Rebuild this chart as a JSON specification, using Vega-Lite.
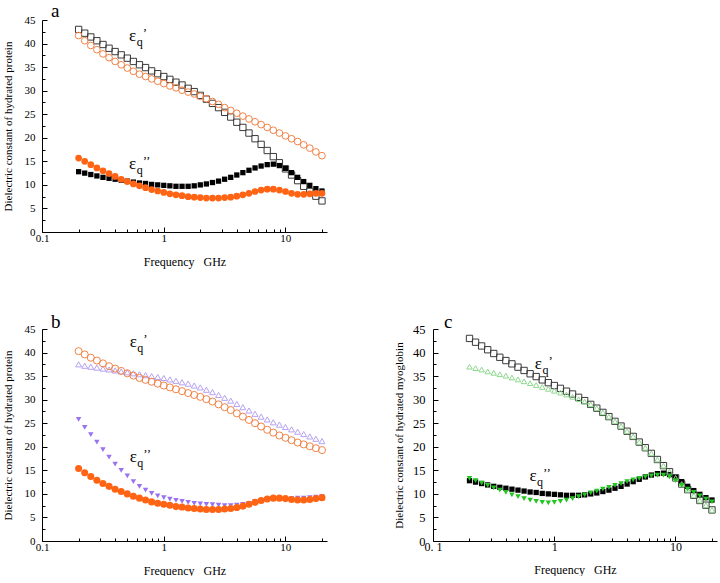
{
  "$schema": "https://vega.github.io/schema/vega-lite/v6.json",
  "padding": {"left": 2, "top": 2, "right": 0, "bottom": 0},
  "config": {
    "view": {"stroke": null},
    "axis": {"grid": false, "domainColor": "#000", "tickColor": "#000", "labelColor": "#000", "titleColor": "#000", "labelFont": "Liberation Serif", "titleFont": "Liberation Serif", "labelFontSize": 11, "titleFontSize": 11, "titleFontWeight": "normal", "domainWidth": 1, "tickWidth": 1, "labelFlush": false},
    "title": {"font": "Liberation Serif", "fontSize": 19, "fontWeight": "normal", "color": "#000"}
  },
  "datasets": {
    "d": [
      {"f":0.2,"sqO":43.0,"sqF":12.8,"aO":41.7,"aF":15.7,"bO":40.3,"bT":37.5,"bTF":25.8,"bF":15.4,"cT":37.0,"cTF":13.3},
      {"f":0.2244,"sqO":42.2,"sqF":12.5,"aO":40.6,"aF":15.0,"bO":39.6,"bT":37.2,"bTF":24.1,"bF":14.5,"cT":36.7,"cTF":12.8},
      {"f":0.2518,"sqO":41.4,"sqF":12.2,"aO":39.6,"aF":14.3,"bO":38.9,"bT":37.0,"bTF":22.6,"bF":13.7,"cT":36.4,"cTF":12.3},
      {"f":0.2825,"sqO":40.6,"sqF":11.9,"aO":38.7,"aF":13.6,"bO":38.3,"bT":36.8,"bTF":21.0,"bF":12.9,"cT":36.0,"cTF":11.8},
      {"f":0.317,"sqO":39.8,"sqF":11.6,"aO":37.8,"aF":13.0,"bO":37.7,"bT":36.6,"bTF":19.4,"bF":12.2,"cT":35.7,"cTF":11.3},
      {"f":0.3557,"sqO":39.0,"sqF":11.4,"aO":37.0,"aF":12.4,"bO":37.1,"bT":36.4,"bTF":17.8,"bF":11.6,"cT":35.4,"cTF":10.8},
      {"f":0.3991,"sqO":38.3,"sqF":11.2,"aO":36.2,"aF":11.8,"bO":36.6,"bT":36.2,"bTF":16.3,"bF":11.0,"cT":35.1,"cTF":10.3},
      {"f":0.4477,"sqO":37.6,"sqF":11.0,"aO":35.5,"aF":11.2,"bO":36.1,"bT":36.0,"bTF":15.0,"bF":10.5,"cT":34.7,"cTF":9.8},
      {"f":0.5024,"sqO":36.9,"sqF":10.8,"aO":34.8,"aF":10.7,"bO":35.6,"bT":35.8,"bTF":13.8,"bF":10.0,"cT":34.3,"cTF":9.4},
      {"f":0.5637,"sqO":36.2,"sqF":10.6,"aO":34.1,"aF":10.2,"bO":35.1,"bT":35.6,"bTF":12.6,"bF":9.5,"cT":33.9,"cTF":9.0},
      {"f":0.6325,"sqO":35.5,"sqF":10.4,"aO":33.5,"aF":9.8,"bO":34.6,"bT":35.4,"bTF":11.6,"bF":9.1,"cT":33.5,"cTF":8.7},
      {"f":0.7096,"sqO":34.9,"sqF":10.3,"aO":33.0,"aF":9.4,"bO":34.2,"bT":35.2,"bTF":10.8,"bF":8.7,"cT":33.1,"cTF":8.4},
      {"f":0.7962,"sqO":34.2,"sqF":10.1,"aO":32.5,"aF":9.0,"bO":33.8,"bT":35.0,"bTF":10.1,"bF":8.3,"cT":32.7,"cTF":8.2},
      {"f":0.8934,"sqO":33.6,"sqF":10.0,"aO":32.0,"aF":8.7,"bO":33.4,"bT":34.8,"bTF":9.6,"bF":8.0,"cT":32.3,"cTF":8.1},
      {"f":1.0024,"sqO":33.0,"sqF":9.9,"aO":31.5,"aF":8.4,"bO":33.0,"bT":34.6,"bTF":9.2,"bF":7.8,"cT":31.9,"cTF":8.2},
      {"f":1.1247,"sqO":32.4,"sqF":9.8,"aO":31.0,"aF":8.1,"bO":32.6,"bT":34.3,"bTF":8.9,"bF":7.6,"cT":31.5,"cTF":8.4},
      {"f":1.2619,"sqO":31.8,"sqF":9.7,"aO":30.6,"aF":7.9,"bO":32.2,"bT":34.0,"bTF":8.6,"bF":7.3,"cT":31.1,"cTF":8.7},
      {"f":1.4159,"sqO":31.2,"sqF":9.7,"aO":30.1,"aF":7.7,"bO":31.8,"bT":33.7,"bTF":8.4,"bF":7.2,"cT":30.6,"cTF":9.0},
      {"f":1.5887,"sqO":30.5,"sqF":9.7,"aO":29.7,"aF":7.5,"bO":31.4,"bT":33.4,"bTF":8.2,"bF":7.0,"cT":30.1,"cTF":9.4},
      {"f":1.7825,"sqO":29.8,"sqF":9.8,"aO":29.3,"aF":7.4,"bO":31.0,"bT":33.0,"bTF":8.0,"bF":6.9,"cT":29.6,"cTF":9.8},
      {"f":2.0,"sqO":29.0,"sqF":10.0,"aO":28.8,"aF":7.3,"bO":30.6,"bT":32.6,"bTF":7.9,"bF":6.8,"cT":29.0,"cTF":10.2},
      {"f":2.244,"sqO":28.2,"sqF":10.2,"aO":28.3,"aF":7.2,"bO":30.1,"bT":32.1,"bTF":7.8,"bF":6.7,"cT":28.2,"cTF":10.6},
      {"f":2.5179,"sqO":27.3,"sqF":10.5,"aO":27.7,"aF":7.2,"bO":29.6,"bT":31.6,"bTF":7.7,"bF":6.7,"cT":27.3,"cTF":11.0},
      {"f":2.8251,"sqO":26.4,"sqF":10.8,"aO":27.1,"aF":7.2,"bO":29.0,"bT":31.0,"bTF":7.6,"bF":6.7,"cT":26.4,"cTF":11.4},
      {"f":3.1698,"sqO":25.4,"sqF":11.2,"aO":26.4,"aF":7.3,"bO":28.4,"bT":30.4,"bTF":7.5,"bF":6.8,"cT":25.4,"cTF":11.8},
      {"f":3.5566,"sqO":24.4,"sqF":11.6,"aO":25.8,"aF":7.4,"bO":27.8,"bT":29.8,"bTF":7.5,"bF":6.9,"cT":24.4,"cTF":12.2},
      {"f":3.9905,"sqO":23.3,"sqF":12.1,"aO":25.2,"aF":7.6,"bO":27.1,"bT":29.1,"bTF":7.6,"bF":7.1,"cT":23.3,"cTF":12.6},
      {"f":4.4774,"sqO":22.2,"sqF":12.6,"aO":24.6,"aF":7.9,"bO":26.4,"bT":28.4,"bTF":7.8,"bF":7.4,"cT":22.2,"cTF":13.0},
      {"f":5.0238,"sqO":21.0,"sqF":13.1,"aO":24.0,"aF":8.2,"bO":25.7,"bT":27.7,"bTF":8.0,"bF":7.8,"cT":21.0,"cTF":13.3},
      {"f":5.6368,"sqO":19.8,"sqF":13.6,"aO":23.4,"aF":8.6,"bO":25.0,"bT":27.0,"bTF":8.3,"bF":8.2,"cT":19.8,"cTF":13.6},
      {"f":6.3246,"sqO":18.6,"sqF":14.0,"aO":22.8,"aF":8.9,"bO":24.3,"bT":26.4,"bTF":8.6,"bF":8.6,"cT":18.6,"cTF":13.8},
      {"f":7.0963,"sqO":17.3,"sqF":14.3,"aO":22.2,"aF":9.1,"bO":23.6,"bT":25.8,"bTF":8.8,"bF":8.9,"cT":17.3,"cTF":14.0},
      {"f":7.9621,"sqO":16.0,"sqF":14.4,"aO":21.6,"aF":9.1,"bO":23.0,"bT":25.2,"bTF":8.9,"bF":9.1,"cT":16.0,"cTF":14.0},
      {"f":8.9337,"sqO":14.7,"sqF":14.1,"aO":21.0,"aF":8.9,"bO":22.4,"bT":24.7,"bTF":9.0,"bF":9.1,"cT":14.7,"cTF":13.6},
      {"f":10.0237,"sqO":13.4,"sqF":13.5,"aO":20.4,"aF":8.6,"bO":21.9,"bT":24.2,"bTF":9.0,"bF":9.0,"cT":13.4,"cTF":12.8},
      {"f":11.2468,"sqO":12.1,"sqF":12.6,"aO":19.8,"aF":8.2,"bO":21.4,"bT":23.7,"bTF":9.0,"bF":8.8,"cT":12.1,"cTF":11.8},
      {"f":12.6191,"sqO":10.9,"sqF":11.6,"aO":19.2,"aF":8.0,"bO":20.9,"bT":23.2,"bTF":9.1,"bF":8.7,"cT":10.9,"cTF":11.0},
      {"f":14.1589,"sqO":9.7,"sqF":10.7,"aO":18.5,"aF":8.0,"bO":20.5,"bT":22.7,"bTF":9.1,"bF":8.7,"cT":9.7,"cTF":10.3},
      {"f":15.8866,"sqO":8.6,"sqF":9.9,"aO":17.8,"aF":8.1,"bO":20.1,"bT":22.2,"bTF":9.2,"bF":8.8,"cT":8.6,"cTF":9.6},
      {"f":17.825,"sqO":7.6,"sqF":9.2,"aO":17.0,"aF":8.2,"bO":19.7,"bT":21.7,"bTF":9.3,"bF":9.0,"cT":7.6,"cTF":8.9},
      {"f":20.0,"sqO":6.6,"sqF":8.7,"aO":16.2,"aF":8.2,"bO":19.3,"bT":21.2,"bTF":9.4,"bF":9.2,"cT":6.6,"cTF":8.3}
    ]
  },
  "bounds": "flush",
  "spacing": 97,
  "vconcat": [
    {
      "width": 285, "height": 212,
      "title": {"text": "a", "anchor": "start", "frame": "group", "dx": 9, "offset": -22, "baseline": "alphabetic"},
      "data": {"name": "d"},
      "layer": [
        {"mark": {"type": "point", "shape": "square", "filled": false, "color": "#3a3a3a", "strokeWidth": 1, "size": 40, "opacity": 1},
         "encoding": {
           "x": {"field": "f", "type": "quantitative", "scale": {"type": "log", "domain": [0.1, 22], "nice": false}, "axis": {"orient": "bottom", "values": [0.1, 1, 10], "format": "~g", "tickSize": -5, "labelPadding": 5, "titlePadding": 13, "titleFontSize": 12, "title": "Frequency\u00a0\u00a0\u00a0GHz"}},
           "y": {"field": "sqO", "type": "quantitative", "scale": {"domain": [0, 45], "nice": false}, "axis": {"orient": "left", "values": [0,5,10,15,20,25,30,35,40,45], "tickSize": -5, "labelPadding": 12, "titlePadding": 11, "title": "Dielectric constant of hydrated protein"}}
         }},
        {"mark": {"type": "point", "shape": "circle", "filled": false, "color": "#f28346", "strokeWidth": 1, "size": 45, "opacity": 1},
         "encoding": {
           "x": {"field": "f", "type": "quantitative", "axis": {"orient": "bottom", "values": [0.2,0.3,0.4,0.5,0.6,0.7,0.8,0.9,2,3,4,5,6,7,8,9,20], "tickSize": -3, "labels": false, "domain": false, "title": null}},
           "y": {"field": "aO", "type": "quantitative", "axis": {"orient": "left", "values": [2.5,7.5,12.5,17.5,22.5,27.5,32.5,37.5,42.5], "tickSize": -3, "labels": false, "domain": false, "title": null}}
         }},
        {"mark": {"type": "point", "shape": "square", "filled": true, "color": "#000", "size": 28, "opacity": 1},
         "encoding": {"x": {"field": "f", "type": "quantitative", "axis": null}, "y": {"field": "sqF", "type": "quantitative", "axis": null}}},
        {"mark": {"type": "point", "shape": "circle", "filled": true, "color": "#ff6414", "size": 45, "opacity": 1},
         "encoding": {"x": {"field": "f", "type": "quantitative", "axis": null}, "y": {"field": "aF", "type": "quantitative", "axis": null}}},
        {"data": {"values": [{"f": 0.556, "v": 41.5, "p": "’"}, {"f": 0.556, "v": 14.4, "p": "’’"}]},
         "layer": [
           {"mark": {"type": "text", "text": "ε", "font": "Liberation Serif", "fontSize": 17, "align": "center", "baseline": "middle"},
            "encoding": {"x": {"field": "f", "type": "quantitative", "axis": null}, "y": {"field": "v", "type": "quantitative", "axis": null}}},
           {"mark": {"type": "text", "text": "q", "font": "Liberation Serif", "fontSize": 12, "align": "center", "baseline": "middle", "dx": 7, "dy": 6},
            "encoding": {"x": {"field": "f", "type": "quantitative", "axis": null}, "y": {"field": "v", "type": "quantitative", "axis": null}}},
           {"mark": {"type": "text", "font": "Liberation Serif", "fontSize": 13, "align": "left", "baseline": "middle", "dx": 10, "dy": -3},
            "encoding": {"text": {"field": "p"}, "x": {"field": "f", "type": "quantitative", "axis": null}, "y": {"field": "v", "type": "quantitative", "axis": null}}}
         ]}
      ],
      "resolve": {"axis": {"x": "independent", "y": "independent"}}
    },
    {
      "bounds": "flush",
      "spacing": 106,
      "hconcat": [
        {
          "width": 285, "height": 212,
          "title": {"text": "b", "anchor": "start", "frame": "group", "dx": 9, "offset": -24, "baseline": "alphabetic"},
          "data": {"name": "d"},
          "layer": [
            {"mark": {"type": "point", "shape": "triangle-up", "filled": false, "color": "#b5a2f2", "strokeWidth": 1, "size": 35, "opacity": 1},
             "encoding": {
               "x": {"field": "f", "type": "quantitative", "scale": {"type": "log", "domain": [0.1, 22], "nice": false}, "axis": {"orient": "bottom", "values": [0.1, 1, 10], "format": "~g", "tickSize": -5, "labelPadding": 5, "titlePadding": 13, "titleFontSize": 12, "title": "Frequency\u00a0\u00a0\u00a0GHz"}},
               "y": {"field": "bT", "type": "quantitative", "scale": {"domain": [0, 45], "nice": false}, "axis": {"orient": "left", "values": [0,5,10,15,20,25,30,35,40,45], "tickSize": -5, "labelPadding": 12, "titlePadding": 11, "title": "Dielectric constant of hydrated protein"}}
             }},
            {"mark": {"type": "point", "shape": "circle", "filled": false, "color": "#f28346", "strokeWidth": 1, "size": 50, "opacity": 1},
             "encoding": {
               "x": {"field": "f", "type": "quantitative", "axis": {"orient": "bottom", "values": [0.2,0.3,0.4,0.5,0.6,0.7,0.8,0.9,2,3,4,5,6,7,8,9,20], "tickSize": -3, "labels": false, "domain": false, "title": null}},
               "y": {"field": "bO", "type": "quantitative", "axis": {"orient": "left", "values": [2.5,7.5,12.5,17.5,22.5,27.5,32.5,37.5,42.5], "tickSize": -3, "labels": false, "domain": false, "title": null}}
             }},
            {"mark": {"type": "point", "shape": "triangle-down", "filled": true, "color": "#9a72f0", "size": 30, "opacity": 1},
             "encoding": {"x": {"field": "f", "type": "quantitative", "axis": null}, "y": {"field": "bTF", "type": "quantitative", "axis": null}}},
            {"mark": {"type": "point", "shape": "circle", "filled": true, "color": "#ff6414", "size": 50, "opacity": 1},
             "encoding": {"x": {"field": "f", "type": "quantitative", "axis": null}, "y": {"field": "bF", "type": "quantitative", "axis": null}}},
            {"data": {"values": [{"f": 0.563, "v": 42.2, "p": "’"}, {"f": 0.563, "v": 17.8, "p": "’’"}]},
             "layer": [
               {"mark": {"type": "text", "text": "ε", "font": "Liberation Serif", "fontSize": 17, "align": "center", "baseline": "middle"},
                "encoding": {"x": {"field": "f", "type": "quantitative", "axis": null}, "y": {"field": "v", "type": "quantitative", "axis": null}}},
               {"mark": {"type": "text", "text": "q", "font": "Liberation Serif", "fontSize": 12, "align": "center", "baseline": "middle", "dx": 7, "dy": 6},
                "encoding": {"x": {"field": "f", "type": "quantitative", "axis": null}, "y": {"field": "v", "type": "quantitative", "axis": null}}},
               {"mark": {"type": "text", "font": "Liberation Serif", "fontSize": 13, "align": "left", "baseline": "middle", "dx": 10, "dy": -3},
                "encoding": {"text": {"field": "p"}, "x": {"field": "f", "type": "quantitative", "axis": null}, "y": {"field": "v", "type": "quantitative", "axis": null}}}
             ]}
          ],
          "resolve": {"axis": {"x": "independent", "y": "independent"}}
        },
        {
          "width": 284, "height": 212,
          "title": {"text": "c", "anchor": "start", "frame": "group", "dx": 11, "offset": -24, "baseline": "alphabetic"},
          "data": {"name": "d"},
          "layer": [
            {"mark": {"type": "point", "shape": "square", "filled": false, "color": "#3a3a3a", "strokeWidth": 1, "size": 40, "opacity": 1},
             "encoding": {
               "x": {"field": "f", "type": "quantitative", "scale": {"type": "log", "domain": [0.1, 22], "nice": false}, "axis": {"orient": "bottom", "values": [0.1, 1, 10], "format": "~g", "labelExpr": "datum.value == 0.1 ? '0. 1' : datum.label", "labelFontSize": 12, "tickSize": -5, "labelPadding": 5, "titlePadding": 12, "titleFontSize": 12, "title": "Frequency\u00a0\u00a0\u00a0GHz"}},
               "y": {"field": "sqO", "type": "quantitative", "scale": {"domain": [0, 45], "nice": false}, "axis": {"orient": "left", "values": [0,5,10,15,20,25,30,35,40,45], "labelFontSize": 12.5, "tickSize": -5, "labelPadding": 13, "titlePadding": 8, "title": "Dielectric constant of hydrated myoglobin"}}
             }},
            {"mark": {"type": "point", "shape": "square", "filled": true, "color": "#000", "size": 28, "opacity": 1},
             "encoding": {
               "x": {"field": "f", "type": "quantitative", "axis": {"orient": "bottom", "values": [0.2,0.3,0.4,0.5,0.6,0.7,0.8,0.9,2,3,4,5,6,7,8,9,20], "tickSize": -3, "labels": false, "domain": false, "title": null}},
               "y": {"field": "sqF", "type": "quantitative", "axis": {"orient": "left", "values": [2.5,7.5,12.5,17.5,22.5,27.5,32.5,37.5,42.5], "tickSize": -3, "labels": false, "domain": false, "title": null}}
             }},
            {"mark": {"type": "point", "shape": "triangle-up", "filled": false, "color": "#8ed88e", "strokeWidth": 1, "size": 30, "opacity": 1},
             "encoding": {"x": {"field": "f", "type": "quantitative", "axis": null}, "y": {"field": "cT", "type": "quantitative", "axis": null}}},
            {"mark": {"type": "point", "shape": "triangle-down", "filled": true, "color": "#22c522", "size": 30, "opacity": 1},
             "encoding": {"x": {"field": "f", "type": "quantitative", "axis": null}, "y": {"field": "cTF", "type": "quantitative", "axis": null}}},
            {"data": {"values": [{"f": 0.74, "v": 37.5, "p": "’"}, {"f": 0.669, "v": 13.8, "p": "’’"}]},
             "layer": [
               {"mark": {"type": "text", "text": "ε", "font": "Liberation Serif", "fontSize": 17, "align": "center", "baseline": "middle"},
                "encoding": {"x": {"field": "f", "type": "quantitative", "axis": null}, "y": {"field": "v", "type": "quantitative", "axis": null}}},
               {"mark": {"type": "text", "text": "q", "font": "Liberation Serif", "fontSize": 12, "align": "center", "baseline": "middle", "dx": 7, "dy": 6},
                "encoding": {"x": {"field": "f", "type": "quantitative", "axis": null}, "y": {"field": "v", "type": "quantitative", "axis": null}}},
               {"mark": {"type": "text", "font": "Liberation Serif", "fontSize": 13, "align": "left", "baseline": "middle", "dx": 10, "dy": -3},
                "encoding": {"text": {"field": "p"}, "x": {"field": "f", "type": "quantitative", "axis": null}, "y": {"field": "v", "type": "quantitative", "axis": null}}}
             ]}
          ],
          "resolve": {"axis": {"x": "independent", "y": "independent"}}
        }
      ]
    }
  ]
}
